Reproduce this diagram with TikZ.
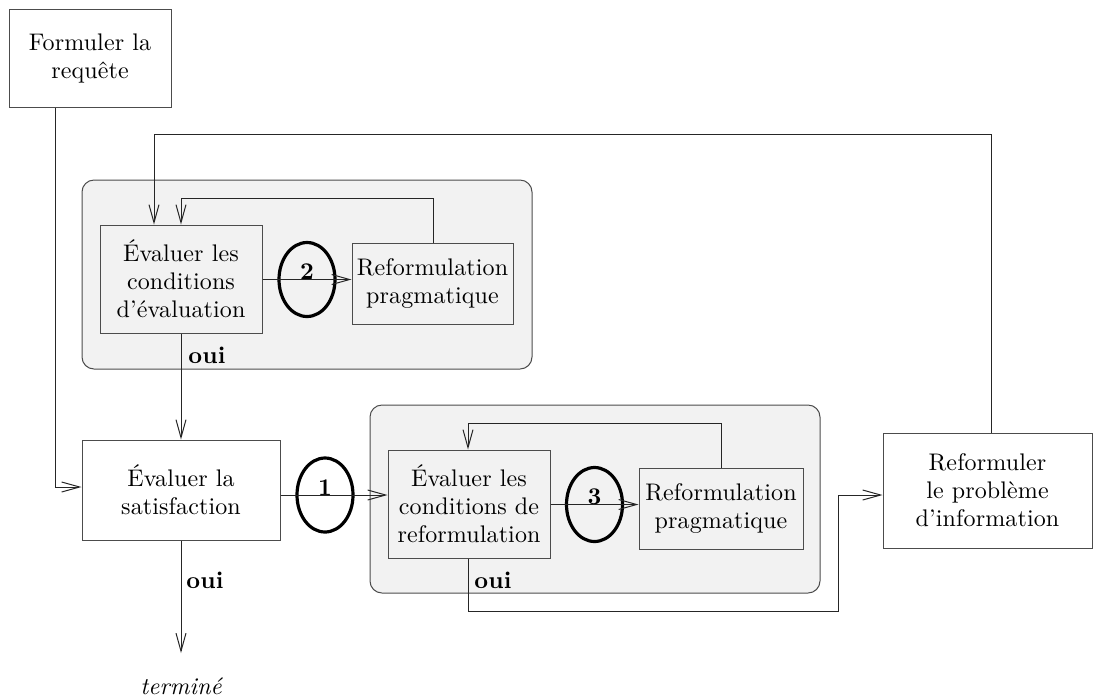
\documentclass[tikz,border=0pt]{standalone}
\usepackage{fontspec}
\setmainfont{lmroman10}[Extension=.otf, UprightFont=*-regular, BoldFont=*-bold,
  ItalicFont=*-italic, LetterSpace=0.5]
\usetikzlibrary{arrows.meta,shapes.geometric}

\tikzset{
  txt/.style={font=\fontsize{12}{14}\selectfont, align=center, inner sep=0pt},
  box/.style={txt, draw=black!70, line width=0.5pt, rectangle},
  group/.style={draw=black!70, fill=black!5, line width=0.5pt, rounded corners=6pt},
  num/.style={draw=black, line width=1.6pt, ellipse, inner sep=0pt},
  lbl/.style={txt, font=\fontsize{12}{14}\selectfont\bfseries},
  conn/.style={draw=black!85, line width=0.5pt},
  arr/.style={conn, -{Straight Barb[length=9pt,width=5pt,line width=0.5pt]}},
}

\begin{document}
\begin{tikzpicture}[x=0.5pt, y=-0.5pt]
  \useasboundingbox (0,0) rectangle (1093,698);

  % shaded groups
  \draw[group] (82,180) rectangle (532,369);
  \draw[group] (370,405) rectangle (820,593);

  % boxes
  \node[box, minimum width=81pt, minimum height=49pt] (form) at (90,58)
    {Formuler la\\requête};
  \node[box, minimum width=81pt, minimum height=54pt] (evalc) at (181,279)
    {Évaluer les\\conditions\\d'évaluation};
  \node[box, minimum width=80.5pt, minimum height=40.5pt] (ref1) at (432.5,283.5)
    {Reformulation\\pragmatique};
  \node[box, minimum width=99pt, minimum height=50pt] (sat) at (181,490)
    {Évaluer la\\satisfaction};
  \node[box, minimum width=81pt, minimum height=54pt] (evalr) at (469,504)
    {Évaluer les\\conditions de\\reformulation};
  \node[box, minimum width=82pt, minimum height=40.5pt] (ref2) at (721,508.5)
    {Reformulation\\pragmatique};
  \node[box, minimum width=104.5pt, minimum height=57.5pt] (reform) at (987.5,490.5)
    {Reformuler\\le problème\\d'information};

  % numbered ellipses
  \node[num, minimum width=28pt, minimum height=37pt] (e1) at (325,495) {};
  \node[num, minimum width=28pt, minimum height=37pt] (e2) at (307,279.5) {};
  \node[num, minimum width=28pt, minimum height=37pt] (e3) at (594.5,504.5) {};
  \node[lbl, anchor=base] (n1) at (e1.center) {1};
  \node[lbl, anchor=base] (n2) at (e2.center) {2};
  \node[lbl, anchor=base] (n3) at (e3.center) {3};

  % labels
  \node[lbl] (oui1) at (207,355) {oui};
  \node[lbl] (oui2) at (493,580) {oui};
  \node[lbl] (oui3) at (205,580) {oui};
  \coordinate (fin) at (181,653);
  \node[txt, font=\fontsize{12}{14}\selectfont\itshape] (term) at (181,686) {terminé};

  % connectors
  \draw[arr] (form.south -| 55,0) -- (55,487) -- (sat.west |- 55,487);
  \draw[arr] (reform.north -| 991,0) -- (991,134) -- (154,134) -- (evalc.north -| 154,0);
  \draw[arr] (ref1.north -| 433,0) -- (433,198) -- (181,198) -- (evalc.north);
  \draw[arr] (evalc.east |- e2) -- (ref1.west |- e2);
  \draw[arr] (evalc.south) -- (sat.north);
  \draw[arr] (sat.east |- e1) -- (evalr.west |- e1);
  \draw[arr] (evalr.east |- e3) -- (ref2.west |- e3);
  \draw[arr] (ref2.north) -- (721,423) -- (468,423) -- (evalr.north -| 468,0);
  \draw[arr] (evalr.south -| 468,0) -- (468,611) -- (838,611) -- (838,495) -- (reform.west |- 838,495);
  \draw[arr] (sat.south) -- (fin);
\end{tikzpicture}
\end{document}
